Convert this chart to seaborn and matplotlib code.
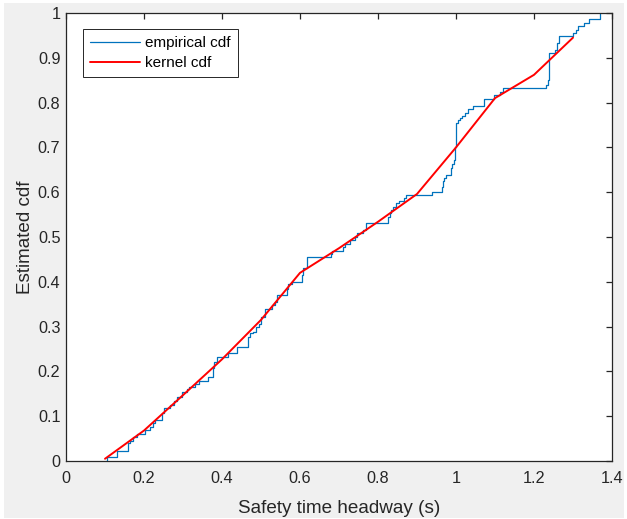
import matplotlib
matplotlib.use("Agg")
import matplotlib.pyplot as plt
from matplotlib.patches import Rectangle
import seaborn as sns

# Empirical cdf: headway at each jump and cdf level after the jump
ecdf_x = [0.104, 0.104, 0.132, 0.160, 0.164, 0.171, 0.183, 0.203, 0.215, 0.222,
          0.228, 0.245, 0.252, 0.267, 0.277, 0.285, 0.297, 0.309, 0.316, 0.331,
          0.341, 0.364, 0.377, 0.380, 0.388, 0.416, 0.438, 0.467, 0.472, 0.479,
          0.486, 0.495, 0.500, 0.510, 0.527, 0.535, 0.540, 0.566, 0.570, 0.579,
          0.604, 0.608, 0.617, 0.679, 0.683, 0.711, 0.715, 0.728, 0.741, 0.745,
          0.762, 0.769, 0.826, 0.830, 0.834, 0.839, 0.846, 0.855, 0.867, 0.872,
          0.939, 0.963, 0.966, 0.970, 0.975, 0.986, 0.990, 0.994, 0.998, 1.000,
          1.004, 1.010, 1.015, 1.022, 1.032, 1.044, 1.072, 1.097, 1.112, 1.121,
          1.232, 1.236, 1.239, 1.254, 1.258, 1.265, 1.299, 1.307, 1.314, 1.327,
          1.342, 1.368]
ecdf_y = [0.000, 0.008, 0.023, 0.040, 0.045, 0.053, 0.060, 0.069, 0.077, 0.084,
          0.091, 0.108, 0.118, 0.126, 0.133, 0.142, 0.153, 0.160, 0.165, 0.172,
          0.178, 0.187, 0.207, 0.220, 0.232, 0.241, 0.255, 0.277, 0.285, 0.289,
          0.298, 0.306, 0.322, 0.339, 0.348, 0.356, 0.371, 0.385, 0.394, 0.400,
          0.415, 0.430, 0.455, 0.462, 0.469, 0.478, 0.485, 0.493, 0.500, 0.508,
          0.516, 0.532, 0.545, 0.553, 0.560, 0.568, 0.575, 0.580, 0.586, 0.594,
          0.601, 0.612, 0.624, 0.632, 0.638, 0.653, 0.664, 0.672, 0.700, 0.754,
          0.761, 0.766, 0.770, 0.776, 0.785, 0.792, 0.809, 0.817, 0.824, 0.832,
          0.839, 0.850, 0.910, 0.917, 0.932, 0.949, 0.956, 0.963, 0.971, 0.978,
          0.987, 1.000]

# Kernel-smoothed cdf evaluated on a coarse grid
kernel_x = [0.1, 0.2, 0.3, 0.4, 0.5, 0.6, 0.7, 0.8, 0.9, 1.0, 1.1, 1.2, 1.3]
kernel_y = [0.005, 0.068, 0.147, 0.227, 0.315, 0.420, 0.475, 0.534, 0.596,
            0.700, 0.810, 0.862, 0.945]

x_ticks = [0, 0.2, 0.4, 0.6, 0.8, 1, 1.2, 1.4]
x_tick_labels = ["0", "0.2", "0.4", "0.6", "0.8", "1", "1.2", "1.4"]
y_ticks = [0, 0.1, 0.2, 0.3, 0.4, 0.5, 0.6, 0.7, 0.8, 0.9, 1]
y_tick_labels = ["0", "0.1", "0.2", "0.3", "0.4", "0.5", "0.6", "0.7", "0.8", "0.9", "1"]

sns.set_style("white")
plt.rcParams["font.family"] = ["Liberation Sans", "DejaVu Sans"]

axis_color = "#262626"
W, H = 627, 519
fig = plt.figure(figsize=(W / 100, H / 100), dpi=100, facecolor="white")
fig.patches.append(Rectangle((4 / W, 1 / H), 620 / W, 515 / H,
                             transform=fig.transFigure, facecolor="#F0F0F0",
                             edgecolor="none", zorder=-10))
ax = fig.add_axes([66 / W, 58 / H, 546 / W, 448 / H])
ax.set_facecolor("white")

sns.lineplot(x=ecdf_x, y=ecdf_y, drawstyle="steps-post", estimator=None,
             sort=False, color="#0072BD", linewidth=0.9, label="empirical cdf",
             ax=ax)
sns.lineplot(x=kernel_x, y=kernel_y, estimator=None, sort=False,
             color="#FF0000", linewidth=1.4, label="kernel cdf", ax=ax)

ax.set_xlim(0, 1.4)
ax.set_ylim(0, 1)
ax.set_xticks(x_ticks)
ax.set_xticklabels(x_tick_labels)
ax.set_yticks(y_ticks)
ax.set_yticklabels(y_tick_labels)

for side in ["top", "right", "bottom", "left"]:
    ax.spines[side].set_visible(True)
    ax.spines[side].set_color(axis_color)
    ax.spines[side].set_linewidth(0.9)

ax.tick_params(axis="both", which="major", direction="in", length=4.3,
               width=0.9, color=axis_color, labelcolor=axis_color,
               labelsize=11.7, top=True, right=True)
ax.tick_params(axis="x", pad=7.5)
ax.tick_params(axis="y", pad=4)

ax.set_xlabel("Safety time headway (s)", fontsize=13.6, color=axis_color,
              labelpad=9.5)
ax.set_ylabel("Estimated cdf", fontsize=13.6, color=axis_color, labelpad=3)

leg = ax.legend(loc="upper left", bbox_to_anchor=(0.031, 0.964),
                borderaxespad=0, fontsize=11.0, frameon=True, fancybox=False,
                handlelength=3.25, handletextpad=0.35, labelspacing=0.38,
                borderpad=0.47)
leg.get_frame().set_edgecolor(axis_color)
leg.get_frame().set_linewidth(0.7)
leg.get_frame().set_facecolor("white")
leg.get_frame().set_alpha(1)
for txt in leg.get_texts():
    txt.set_color("black")

fig.savefig("out.png", dpi=100, facecolor=fig.get_facecolor())
